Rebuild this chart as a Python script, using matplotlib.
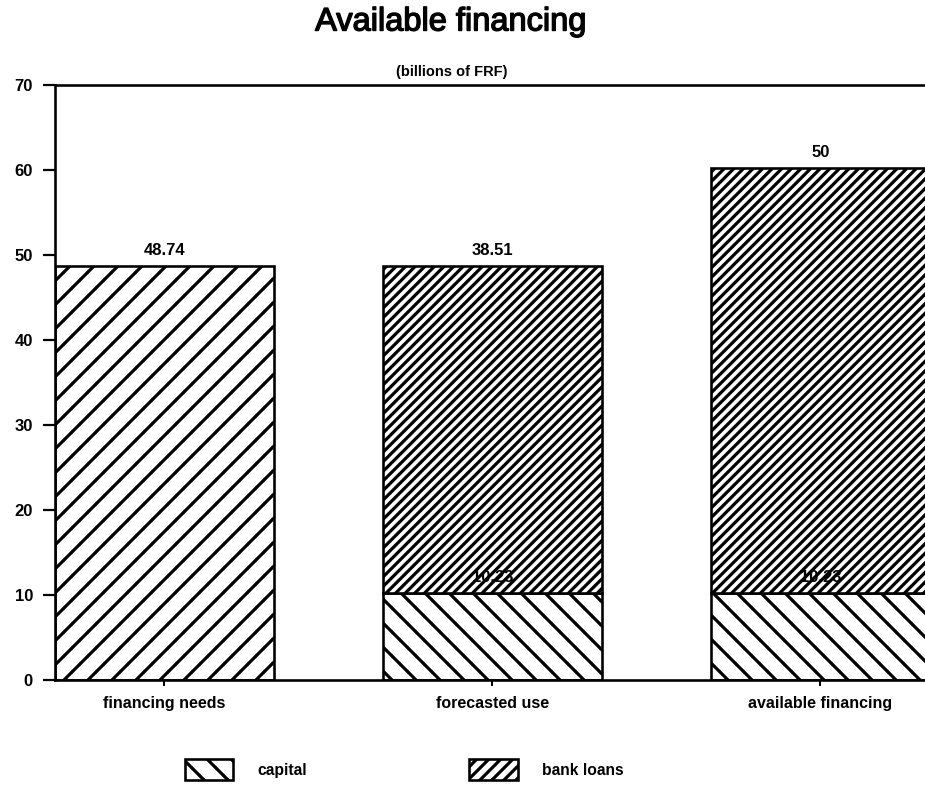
import matplotlib
matplotlib.use("Agg")
import matplotlib.pyplot as plt
import matplotlib.patheffects as pe
from matplotlib.patches import Patch
import numpy as np

# datos (miles de millones de FRF)
categorias = ['financing needs', 'forecasted use', 'available financing']
necesidades = [48.74, 0, 0]
capital = [0, 10.23, 10.23]
prestamos = [0, 38.51, 50]

plt.rcParams['font.family'] = ['Liberation Sans', 'DejaVu Sans']
plt.rcParams['hatch.linewidth'] = 1.6

dpi = 144
fig = plt.figure(figsize=(925 / dpi, 785 / dpi), dpi=dpi)
ax = fig.add_axes([55 / 925, 105 / 785, 1 - 55 / 925, 595 / 785])

x = np.arange(len(categorias))
ancho = 0.667
lw = 1.3
fs = 8.3

# barra de necesidades de financiamiento
ax.bar(x[0], necesidades[0], ancho, color='white', edgecolor='black',
       hatch='//', linewidth=lw)

# barras apiladas: capital abajo, prestamos bancarios arriba
ax.bar(x[1:], capital[1:], ancho, color='white', edgecolor='black',
       hatch='\\\\', linewidth=lw)
ax.bar(x[1:], prestamos[1:], ancho, bottom=capital[1:], color='white',
       edgecolor='black', hatch='/////', linewidth=lw)

# etiquetas de valores
ax.annotate('{:.2f}'.format(necesidades[0]), (x[0], necesidades[0]),
            xytext=(0, 4), textcoords='offset points', ha='center',
            va='bottom', fontsize=fs, fontweight='bold')
for i in [1, 2]:
    tope = capital[i] + prestamos[i]
    txt = '{:g}'.format(prestamos[i])
    if i == 1:
        txt = '{:.2f}'.format(prestamos[i])
    ax.annotate(txt, (x[i], tope), xytext=(0, 4), textcoords='offset points',
                ha='center', va='bottom', fontsize=fs, fontweight='bold',
                clip_on=False)
    ax.annotate('{:.2f}'.format(capital[i]), (x[i], capital[i]),
                xytext=(0, 4), textcoords='offset points', ha='center',
                va='bottom', fontsize=fs, fontweight='bold')

ax.set_xlim(-0.3335, -0.3335 + 870 / 328 * 1.0)
ax.set_ylim(0, 70)
ax.set_yticks(np.arange(0, 71, 10))
ax.set_xticks(x)
ax.set_xticklabels(categorias)

for s in ['left', 'top', 'bottom']:
    ax.spines[s].set_linewidth(lw)
ax.spines['right'].set_visible(False)

ax.tick_params(axis='y', direction='out', length=6, width=1.1, pad=5,
               labelsize=fs)
ax.tick_params(axis='x', direction='out', length=3, width=1.0, pad=5,
               labelsize=8)
for lab in ax.get_xticklabels() + ax.get_yticklabels():
    lab.set_fontweight('bold')

# titulo y subtitulo
fig.text(451 / 925, 1 - 22 / 785, 'Available financing', ha='center',
         va='center', fontsize=16.3,
         path_effects=[pe.withStroke(linewidth=0.7, foreground='black')])
fig.text(452 / 925, 1 - 72 / 785, '(billions of FRF)', ha='center',
         va='center', fontsize=7.3, fontweight='bold')

# leyenda
manejadores = [Patch(facecolor='white', edgecolor='black', hatch='\\\\',
                     linewidth=lw, label='capital'),
               Patch(facecolor='white', edgecolor='black', hatch='////',
                     linewidth=lw, label='bank loans')]
leg = fig.legend(handles=manejadores, loc='upper left',
                 bbox_to_anchor=(185 / 925, 1 - 759 / 785), ncol=2,
                 frameon=False, fontsize=7.8, handlelength=3.1,
                 handleheight=1.7, handletextpad=1.55, columnspacing=10.4,
                 borderpad=0, borderaxespad=0)
for t in leg.get_texts():
    t.set_fontweight('bold')

plt.savefig('out.png', dpi=dpi)
